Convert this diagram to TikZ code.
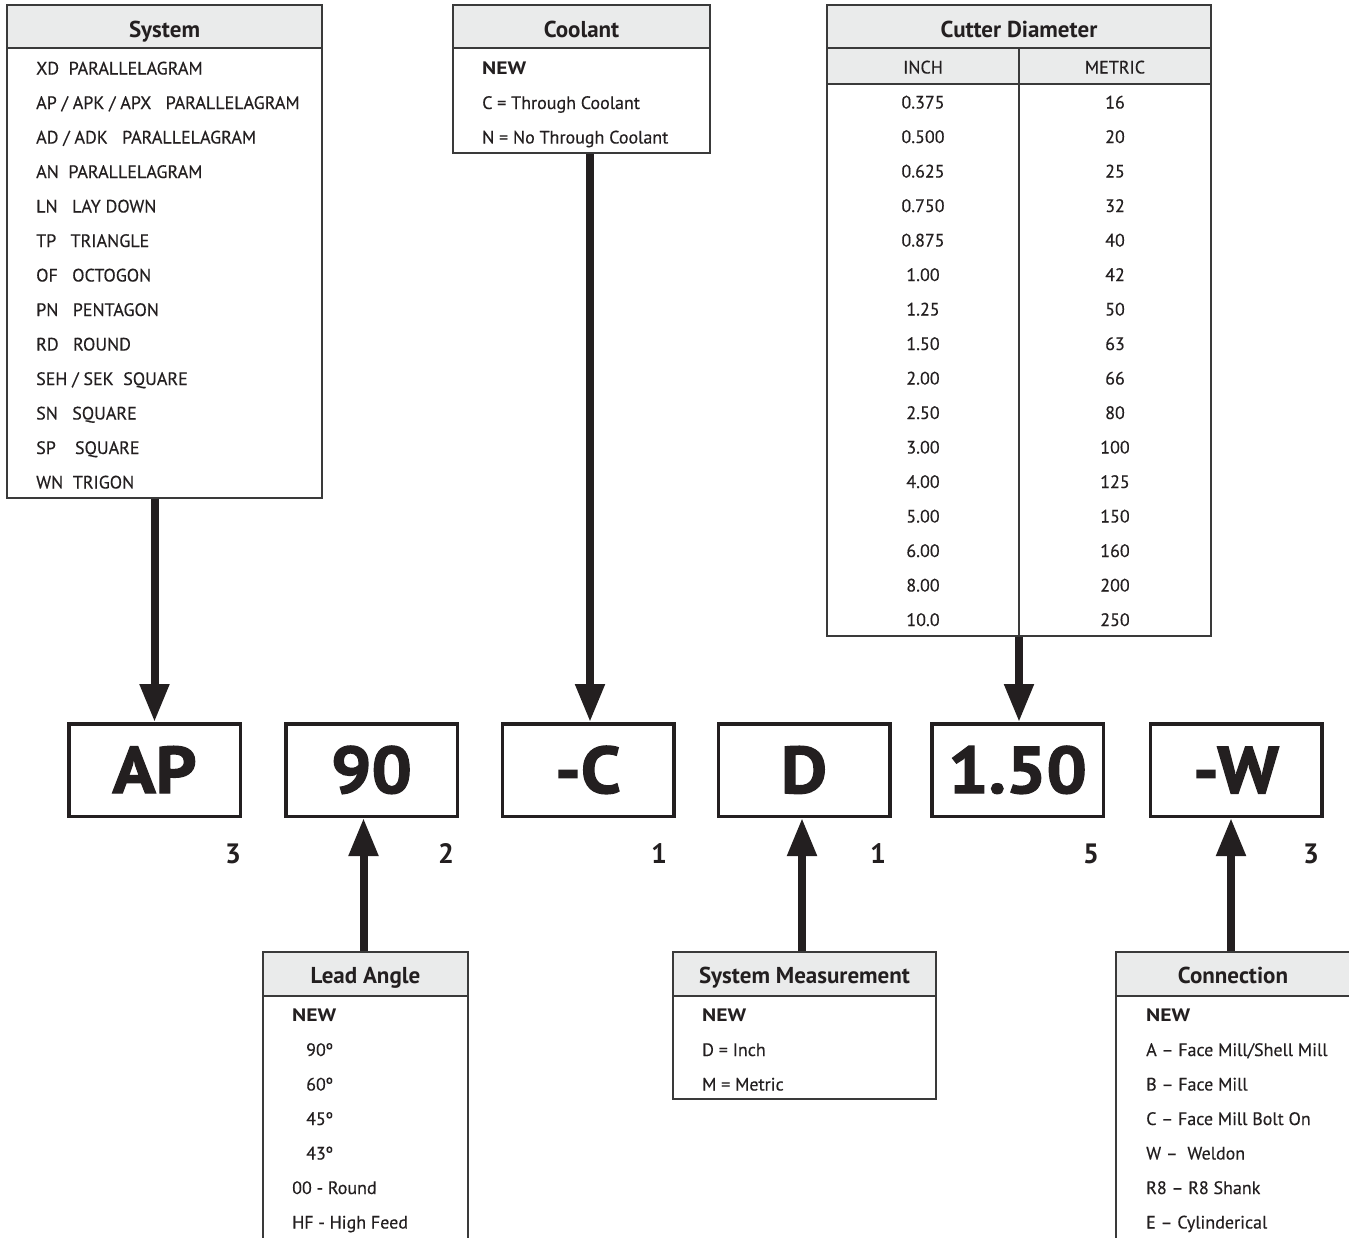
\documentclass[tikz,border=0pt]{standalone}
\usepackage{fontspec}
\setmainfont{PT Sans}
\usetikzlibrary{arrows.meta}
\definecolor{ink}{HTML}{231F20}
\definecolor{hdrgray}{HTML}{EAEBEB}
\definecolor{boxline}{HTML}{3A3A3A}
\begin{document}
\begin{tikzpicture}[x=1pt,y=-1pt,
  tbl/.style={draw=boxline, line width=1.3pt, fill=white, inner sep=0pt, rectangle},
  hdr/.style={draw=boxline, line width=1.3pt, fill=hdrgray},
  ttl/.style={anchor=base, inner sep=0pt, text=ink, font=\fontsize{23}{26}\selectfont\bfseries},
  txt/.style={anchor=base west, inner sep=0pt, text=ink, font=\fontsize{18}{20}\selectfont\addfontfeature{FakeBold=0.3}},
  ctxt/.style={anchor=base, inner sep=0pt, text=ink, font=\fontsize{18}{20}\selectfont\addfontfeature{FakeBold=0.3}},
  btxt/.style={anchor=base west, inner sep=0pt, text=ink, font=\fontsize{18}{20}\selectfont\bfseries\addfontfeature{FakeStretch=1.2}},
  code/.style={draw=ink, line width=3.5pt, fill=white, minimum width=171.5pt, minimum height=92.5pt, inner sep=0pt},
  codetxt/.style={anchor=base, inner sep=0pt, text=ink, font=\fontsize{66}{70}\selectfont\bfseries\addfontfeature{FakeStretch=1.08,FakeBold=2}},
  num/.style={anchor=base, inner sep=0pt, text=ink, font=\fontsize{28}{30}\selectfont\bfseries},
  arr/.style={draw=ink, line width=8pt, -{Triangle[width=28pt,length=38pt]}}
]
\useasboundingbox (0,0) rectangle (1349,1237);
\fill[white] (0,0) rectangle (1349,1237);

% ---------- System ----------
\node[tbl, minimum width=315pt, minimum height=493pt] (sys) at (164.5,251.5) {};
\draw[hdr] (7,5) rectangle (322,48);
\node[ttl] (systtl) at (164.5,37) {System};
\foreach \t [count=\i from 0] in {
  XD\ \ PARALLELAGRAM,
  AP / APK / APX\ \ \ PARALLELAGRAM,
  AD / ADK\ \ \ PARALLELAGRAM,
  AN\ \ PARALLELAGRAM,
  LN\ \ \ LAY DOWN,
  TP\ \ \ TRIANGLE,
  OF\ \ \ OCTOGON,
  PN\ \ \ PENTAGON,
  RD\ \ \ ROUND,
  SEH / SEK\ \ SQUARE,
  SN\ \ \ SQUARE,
  SP\ \ \ \ SQUARE,
  WN\ \ TRIGON}
  \node[txt] (sysr\i) at (36,{74.5+34.5*\i}) {\t};

% ---------- Coolant ----------
\node[tbl, minimum width=257pt, minimum height=148pt] (cool) at (581.5,79) {};
\draw[hdr] (453,5) rectangle (710,48);
\node[ttl] (cooltl) at (581.5,37) {Coolant};
\node[btxt] (cool0) at (482,74.5) {NEW};
\node[txt] (cool1) at (482,109) {C = Through Coolant};
\node[txt] (cool2) at (482,143.5) {N = No Through Coolant};

% ---------- Cutter Diameter ----------
\node[tbl, minimum width=384pt, minimum height=631pt] (cut) at (1019,320.5) {};
\draw[hdr] (827,5) rectangle (1211,48);
\draw[hdr] (827,48) rectangle (1211,84);
\draw[draw=boxline, line width=1.3pt] (1019,48) -- (1019,636);
\node[ttl] (cuttl) at (1019,37) {Cutter Diameter};
\node[ctxt] (cutin) at (923,73.5) {INCH};
\node[ctxt] (cutme) at (1115,73.5) {METRIC};
\foreach \a/\b [count=\i from 0] in {0.375/16,0.500/20,0.625/25,0.750/32,0.875/40,1.00/42,1.25/50,1.50/63,2.00/66,2.50/80,3.00/100,4.00/125,5.00/150,6.00/160,8.00/200,10.0/250}{
  \node[ctxt] (cuta\i) at (923,{108.5+34.5*\i}) {\a};
  \node[ctxt] (cutb\i) at (1115,{108.5+34.5*\i}) {\b};
}

% ---------- Code boxes ----------
\node[code] (cAP) at (154.5,770) {};
\node[codetxt] at (154.5,793) {AP};
\node[code] (c90) at (371.5,770) {};
\node[codetxt] at (371.5,793) {90};
\node[code] (cC) at (588,770) {};
\node[codetxt] at (588,793) {-C};
\node[code] (cD) at (804,770) {};
\node[codetxt] at (804,793) {D};
\node[code] (c150) at (1017.5,770) {};
\node[codetxt] at (1017.5,793) {1.50};
\node[code] (cW) at (1236,770) {};
\node[codetxt] at (1236,793) {-W};

\node[num] (n1) at (233,863) {3};
\node[num] (n2) at (446,863) {2};
\node[num] (n3) at (659,863) {1};
\node[num] (n4) at (878,863) {1};
\node[num] (n5) at (1091,863) {5};
\node[num] (n6) at (1311,863) {3};

% ---------- Lead Angle ----------
\node[tbl, minimum width=205pt, minimum height=320pt] (lead) at (365.5,1112) {};
\draw[hdr] (263,952) rectangle (468,996);
\node[ttl] (leadttl) at (365.5,983) {Lead Angle};
\node[btxt] (lead0) at (292,1021.5) {NEW};
\node[txt] (lead1) at (306,1056) {90º};
\node[txt] (lead2) at (306,1090.5) {60º};
\node[txt] (lead3) at (306,1125) {45º};
\node[txt] (lead4) at (306,1159.5) {43º};
\node[txt] (lead5) at (292,1194) {00 - Round};
\node[txt] (lead6) at (292,1228.5) {HF - High Feed};

% ---------- System Measurement ----------
\node[tbl, minimum width=263pt, minimum height=147pt] (meas) at (804.5,1025.5) {};
\draw[hdr] (673,952) rectangle (936,996);
\node[ttl] (measttl) at (804.5,983) {System Measurement};
\node[btxt] (meas0) at (702,1021.5) {NEW};
\node[txt] (meas1) at (702,1056) {D = Inch};
\node[txt] (meas2) at (702,1090.5) {M = Metric};

% ---------- Connection ----------
\node[tbl, minimum width=240pt, minimum height=320pt] (conn) at (1236,1112) {};
\draw[hdr] (1116,952) rectangle (1356,996);
\node[ttl] (connttl) at (1233,983) {Connection};
\node[btxt] (conn0) at (1146,1021.5) {NEW};
\node[txt] (conn1) at (1146,1056) {A – Face Mill/Shell Mill};
\node[txt] (conn2) at (1146,1090.5) {B – Face Mill};
\node[txt] (conn3) at (1146,1125) {C – Face Mill Bolt On};
\node[txt] (conn4) at (1146,1159.5) {W –\ \ Weldon};
\node[txt] (conn5) at (1146,1194) {R8 – R8 Shank};
\node[txt] (conn6) at (1146,1228.5) {E – Cylinderical};

% ---------- Arrows ----------
\draw[arr] (cAP.north |- sys.south) -- (cAP.north);
\draw[arr] ([xshift=2pt]cC.north |- cool.south) -- ([xshift=2pt]cC.north);
\draw[arr] ([xshift=1.5pt]c150.north |- cut.south) -- ([xshift=1.5pt]c150.north);
\draw[arr] ([xshift=-8pt]c90.south |- lead.north) -- ([xshift=-8pt]c90.south);
\draw[arr] ([xshift=-2pt]cD.south |- meas.north) -- ([xshift=-2pt]cD.south);
\draw[arr] ([xshift=-5pt]cW.south |- conn.north) -- ([xshift=-5pt]cW.south);
\end{tikzpicture}
\end{document}
